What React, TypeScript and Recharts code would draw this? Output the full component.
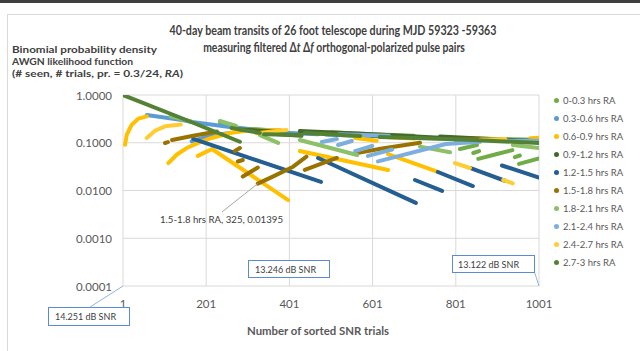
import React from 'react';
import { LineChart, Line, XAxis, YAxis, CartesianGrid, Legend, ReferenceLine } from 'recharts';

type Seg = [number, number][];

const seriesNames = [
  '0-0.3 hrs RA', '0.3-0.6 hrs RA', '0.6-0.9 hrs RA', '0.9-1.2 hrs RA', '1.2-1.5 hrs RA',
  '1.5-1.8 hrs RA', '1.8-2.1 hrs RA', '2.1-2.4 hrs RA', '2.4-2.7 hrs RA', '2.7-3 hrs RA',
];
const seriesColors = [
  '#70AD47', '#5B9BD5', '#FFC000', '#43682B', '#255E91',
  '#997300', '#8CC168', '#7CAFDD', '#FFCD33', '#548235',
];

// segments of each series: [trial number, probability density]
const s00: Seg[] = [
  [[234, 0.27], [273, 0.215]],
  [[282, 0.2], [330, 0.19], [390, 0.175]],
  [[500, 0.165], [600, 0.15], [700, 0.14]],
  [[760, 0.128], [1001, 0.115]],
  [[811, 0.074], [852, 0.09]],
  [[843, 0.061], [857, 0.067]],
  [[855, 0.046], [900, 0.058], [937, 0.07]],
  [[943, 0.05], [955, 0.054]],
  [[953, 0.036], [1001, 0.047]],
];
const s03: Seg[] = [
  [[58, 0.38], [143, 0.3], [167, 0.272], [258, 0.214], [300, 0.195]],
  [[166, 0.107], [210, 0.14], [258, 0.16]],
  [[320, 0.175], [400, 0.16], [470, 0.15]],
  [[490, 0.148], [560, 0.14], [700, 0.13]],
  [[720, 0.128], [800, 0.12], [1001, 0.105]],
];
const s06: Seg[] = [
  [[6, 0.091], [10, 0.148], [22, 0.238], [38, 0.32], [58, 0.358]],
  [[110, 0.0375], [130, 0.056], [154, 0.0775], [182, 0.099], [214, 0.126], [258, 0.16], [300, 0.18], [380, 0.185]],
  [[181, 0.053], [215, 0.074], [398, 0.0063]],
  [[426, 0.067], [638, 0.0269]],
  [[638, 0.058], [758, 0.0245]],
  [[559, 0.126], [611, 0.11]],
  [[640, 0.13], [700, 0.122]],
  [[760, 0.125], [800, 0.12]],
  [[980, 0.125], [1001, 0.128]],
];
const s09: Seg[] = [
  [[282, 0.19], [380, 0.17]],
  [[330, 0.16], [430, 0.14]],
  [[426, 0.176], [600, 0.15], [775, 0.126]],
  [[600, 0.14], [700, 0.135]],
  [[763, 0.135], [1001, 0.107]],
];
const s12: Seg[] = [
  [[170, 0.12], [477, 0.0151]],
  [[470, 0.048], [705, 0.0055]],
  [[703, 0.0166], [768, 0.0098]],
  [[758, 0.0244], [842, 0.0124]],
  [[835, 0.0296], [919, 0.016]],
  [[912, 0.0334], [1001, 0.0187]],
];
const s15: Seg[] = [
  [[102, 0.099], [109, 0.103]],
  [[119, 0.114], [170, 0.14], [227, 0.172]],
  [[270, 0.067], [282, 0.0775]],
  [[277, 0.0405], [289, 0.0435]],
  [[289, 0.0196], [325, 0.0303]],
  [[325, 0.01395], [361, 0.0195], [410, 0.0315], [442, 0.051]],
  [[438, 0.027], [515, 0.048]],
  [[560, 0.06], [620, 0.075], [715, 0.1]],
  [[800, 0.115], [870, 0.12]],
];
const s18: Seg[] = [
  [[115, 0.36], [165, 0.28]],
  [[234, 0.285], [273, 0.224]],
  [[330, 0.145], [374, 0.099]],
  [[426, 0.114], [564, 0.0554]],
  [[715, 0.083], [787, 0.063]],
  [[938, 0.0897], [1001, 0.0775]],
];
const s21: Seg[] = [
  [[479, 0.104], [515, 0.12]],
  [[518, 0.0897], [551, 0.109]],
  [[559, 0.067], [600, 0.0855]],
  [[590, 0.053], [648, 0.0723]],
  [[614, 0.0407], [777, 0.094], [860, 0.105]],
  [[520, 0.15], [640, 0.14]],
  [[900, 0.11], [1001, 0.11]],
];
const s24: Seg[] = [
  [[58, 0.126], [78, 0.178], [102, 0.221], [140, 0.24]],
  [[322, 0.158], [394, 0.185]],
  [[799, 0.0375], [835, 0.0296]],
  [[915, 0.0166], [938, 0.0141]],
  [[860, 0.115], [920, 0.12]],
];
const s27: Seg[] = [
  [[1, 1], [141, 0.33], [282, 0.105]],
  [[262, 0.204], [330, 0.16]],
  [[340, 0.15], [430, 0.145]],
  [[438, 0.16], [571, 0.139]],
  [[618, 0.132], [800, 0.118], [1001, 0.099]],
];
const seriesSegments = [s00, s03, s06, s09, s12, s15, s18, s21, s24, s27];

const xTicks = [1, 201, 401, 601, 801, 1001];
const yTicks = [0.0001, 0.001, 0.01, 0.1, 1];

const annotationPoint = { x: 325, y: 0.01395, label: '1.5-1.8 hrs RA, 325, 0.01395' };
const snrLabels = ['14.251 dB SNR', '13.246 dB SNR', '13.122 dB SNR'];

function toRows(segs: Seg[]) {
  const rows: { x: number; y: number | null }[] = [];
  segs.forEach((seg, i) => {
    if (i > 0) rows.push({ x: seg[0][0], y: null });
    seg.forEach(([x, y]) => rows.push({ x, y }));
  });
  return rows;
}

const FONT = 'Lato, "Liberation Sans", sans-serif';

const YTick = (props: any) => (
  <text x={props.x} y={props.y} textAnchor="end" dominantBaseline="central" fontSize={11.5} fontFamily={FONT} fill="#595959">
    {Number(props.payload.value).toFixed(4)}
  </text>
);
const XTick = (props: any) => (
  <text x={props.x} y={props.y} textAnchor="middle" dominantBaseline="central" fontSize={11.5} fontFamily={FONT} fill="#595959">
    {props.payload.value}
  </text>
);

const renderLegend = (props: any) => {
  const payload = props.payload || [];
  return (
    <div style={{ fontFamily: FONT, fontSize: 9.5, color: '#595959' }}>
      {payload.map((p: any, i: number) => (
        <div key={i} style={{ height: 18.1, display: 'flex', alignItems: 'center' }}>
          <span style={{ display: 'inline-block', width: 5, height: 5, borderRadius: 3, background: p.color, marginRight: 4 }} />
          <span>{p.value}</span>
        </div>
      ))}
    </div>
  );
};

export default function App() {
  return (
    <div style={{ position: 'absolute', left: 0, top: 0, width: 640, height: 351, background: '#fff', overflow: 'hidden' }}>
      <LineChart width={640} height={351} margin={{ top: 95, right: 101, bottom: 35, left: 8 }}>
        <CartesianGrid stroke="#D9D9D9" strokeWidth={1} />
        <XAxis dataKey="x" type="number" domain={[1, 1001]} ticks={xTicks} allowDataOverflow
          axisLine={false} tickLine={false} tickSize={0} tickMargin={17} height={30} tick={<XTick />} />
        <YAxis type="number" scale="log" domain={[0.0001, 1]} ticks={yTicks} allowDataOverflow
          axisLine={false} tickLine={false} tickSize={0} tickMargin={11} width={115} tick={<YTick />} />
        <Legend layout="vertical" align="center" verticalAlign="middle" content={renderLegend}
          wrapperStyle={{ left: 554, top: 91, width: 86, height: 185 }} />
        {seriesSegments.map((segs, i) => (
          <Line key={seriesNames[i]} name={seriesNames[i]} data={toRows(segs)} dataKey="y" stroke={seriesColors[i]}
            strokeWidth={4} strokeLinecap="round" strokeLinejoin="round" dot={false} activeDot={false}
            isAnimationActive={false} connectNulls={false} type="linear" />
        ))}
        <ReferenceLine segment={[{ x: annotationPoint.x, y: annotationPoint.y }, { x: 239, y: 0.00355 }]} stroke="#A6A6A6" strokeWidth={1} />
        <ReferenceLine segment={[{ x: 1, y: 0.0001 }, { x: -78, y: 0.0000363 }]} ifOverflow="visible" stroke="#8EB4E3" strokeWidth={1} />
        <ReferenceLine segment={[{ x: 1001, y: 0.0001 }, { x: 991, y: 0.000187 }]} ifOverflow="visible" stroke="#8EB4E3" strokeWidth={1} />
      </LineChart>
      <svg width={640} height={351} style={{ position: 'absolute', left: 0, top: 0, pointerEvents: 'none' }}>
        <rect x={0} y={0} width={640} height={3} fill="#3F3F3F" />
        <rect x={7.5} y={14.5} width={700} height={400} fill="none" stroke="#D9D9D9" />
        <g fontFamily={FONT} fontWeight="bold" fill="#404040" fontSize={13}>
          <text x={333} y={35} textAnchor="middle" textLength={327} lengthAdjust="spacingAndGlyphs">40-day beam transits of 26 foot telescope during MJD 59323 -59363</text>
          <g transform="translate(334,52) scale(0.8,1)">
            <text x={0} y={0} textAnchor="middle">
              measuring filtered Δ<tspan fontStyle="italic">t</tspan> Δ<tspan fontStyle="italic">f</tspan> orthogonal-polarized pulse pairs
            </text>
          </g>
        </g>
        <g fontFamily={FONT} fontWeight="bold" fill="#404040" fontSize={9.5}>
          <text x={12} y={53} textLength={145} lengthAdjust="spacingAndGlyphs">Binomial probability density</text>
          <text x={12} y={65} textLength={121} lengthAdjust="spacingAndGlyphs">AWGN likelihood function</text>
          <text x={12} y={77} textLength={171} lengthAdjust="spacingAndGlyphs">(# seen, # trials, pr. = 0.3/24, <tspan fontStyle="italic">RA</tspan>)</text>
        </g>
        <text x={318} y={335} textAnchor="middle" fontFamily={FONT} fontWeight="bold" fontSize={11.5} fill="#595959" textLength={142} lengthAdjust="spacingAndGlyphs">Number of sorted SNR trials</text>
        <text x={160} y={223} fontFamily={FONT} fontSize={10} fill="#404040" textLength={123} lengthAdjust="spacingAndGlyphs">{annotationPoint.label}</text>
        <g fontFamily={FONT} fontSize={9} fill="#404040">
          <rect x={48.5} y={307.5} width={81} height={18} fill="#fff" stroke="#5B8BD0" />
          <text x={55} y={320}>{snrLabels[0]}</text>
          <rect x={248.5} y={260.5} width={81} height={17} fill="#fff" stroke="#5B8BD0" />
          <text x={255} y={272.5}>{snrLabels[1]}</text>
          <rect x={452.5} y={255.5} width={82} height={17} fill="#fff" stroke="#5B8BD0" />
          <text x={458} y={267.5}>{snrLabels[2]}</text>
        </g>
      </svg>
    </div>
  );
}
